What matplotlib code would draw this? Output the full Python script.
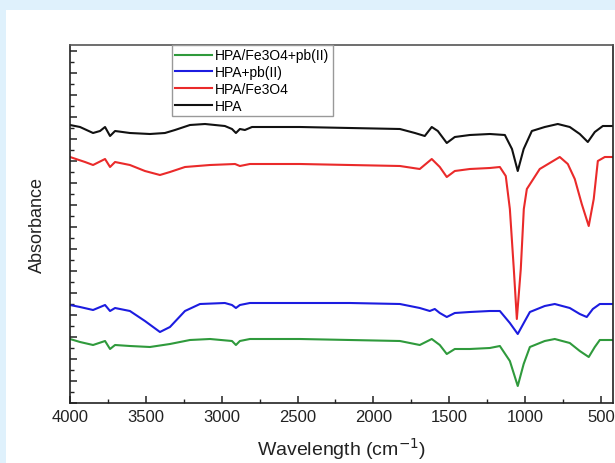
import matplotlib
matplotlib.use("Agg")
import matplotlib.pyplot as plt
from matplotlib.patches import Rectangle
from matplotlib.ticker import MultipleLocator, NullFormatter

plt.rcParams['font.family'] = ['Liberation Sans', 'DejaVu Sans']

# FTIR spectra, wavenumber (cm-1) vs absorbance (arbitrary, offset)
wn_hpa = [4000, 3934, 3848, 3802, 3769, 3736, 3703, 3605, 3473, 3374, 3308, 3209, 3110,
          2979, 2932, 2906, 2880, 2847, 2800, 2484, 2155, 1825, 1726, 1661, 1615, 1575,
          1516, 1463, 1364, 1232, 1133, 1086, 1048, 1009, 955, 870, 784, 705, 639, 586,
          540, 487, 421]
ab_hpa = [2.78, 2.76, 2.70, 2.72, 2.76, 2.67, 2.72, 2.70, 2.69, 2.70, 2.73, 2.78, 2.79,
          2.77, 2.74, 2.70, 2.74, 2.73, 2.76, 2.76, 2.75, 2.74, 2.70, 2.67, 2.76, 2.72,
          2.60, 2.66, 2.68, 2.69, 2.68, 2.54, 2.32, 2.54, 2.72, 2.76, 2.79, 2.76, 2.69, 2.61,
          2.71, 2.77, 2.77]

wn_fe = [4000, 3901, 3848, 3769, 3736, 3703, 3605, 3506, 3407, 3341, 3242, 3077, 2912,
         2880, 2814, 2484, 2155, 1825, 1694, 1615, 1562, 1516, 1463, 1364, 1232, 1166,
         1127, 1100, 1074, 1054, 1028, 1008, 988, 903, 771, 718, 672, 626, 580, 547, 520,
         474, 421]
ab_fe = [2.46, 2.41, 2.38, 2.44, 2.36, 2.41, 2.38, 2.32, 2.28, 2.31, 2.36, 2.38, 2.39,
         2.37, 2.39, 2.39, 2.38, 2.37, 2.34, 2.44, 2.36, 2.26, 2.32, 2.34, 2.35, 2.36,
         2.27, 1.94, 1.34, 0.84, 1.34, 1.94, 2.14, 2.34, 2.46, 2.39, 2.24, 1.99, 1.77, 2.04,
         2.42, 2.46, 2.46]

wn_pb = [4000, 3934, 3848, 3769, 3736, 3703, 3605, 3506, 3407, 3341, 3242, 3143, 2979,
         2932, 2906, 2880, 2814, 2484, 2155, 1825, 1694, 1628, 1595, 1562, 1516, 1463,
         1364, 1232, 1166, 1100, 1048, 1001, 968, 870, 804, 705, 639, 593, 553, 507, 421]
ab_pb = [0.98, 0.96, 0.93, 0.98, 0.92, 0.95, 0.92, 0.82, 0.71, 0.76, 0.92, 0.99, 1.00,
         0.98, 0.95, 0.98, 1.00, 1.00, 1.00, 0.99, 0.95, 0.92, 0.94, 0.90, 0.86, 0.90,
         0.91, 0.92, 0.92, 0.80, 0.69, 0.82, 0.91, 0.97, 0.99, 0.95, 0.89, 0.86, 0.94,
         0.99, 0.99]

wn_fepb = [4000, 3934, 3848, 3769, 3736, 3703, 3605, 3473, 3341, 3209, 3077, 2932, 2906,
           2880, 2814, 2484, 2155, 1825, 1694, 1615, 1562, 1516, 1463, 1364, 1232, 1166,
           1100, 1048, 1009, 968, 870, 804, 705, 639, 580, 540, 507, 421]
ab_fepb = [0.64, 0.61, 0.58, 0.62, 0.54, 0.58, 0.57, 0.56, 0.59, 0.63, 0.64, 0.62, 0.58,
           0.62, 0.64, 0.64, 0.63, 0.62, 0.58, 0.64, 0.58, 0.49, 0.54, 0.54, 0.55, 0.57,
           0.42, 0.17, 0.39, 0.56, 0.62, 0.64, 0.60, 0.52, 0.46, 0.56, 0.63, 0.63]

fig = plt.figure(figsize=(6.15, 4.64), dpi=100, facecolor='#dff1fc')
# white panel behind the chart
panel = Rectangle((6 / 615, 0), 1, (464 - 11) / 464, transform=fig.transFigure,
                  facecolor='white', edgecolor='none', zorder=-5)
fig.patches.append(panel)

ax = fig.add_axes([70 / 615, 60 / 464, 543 / 615, 358 / 464])
ax.set_facecolor('white')

ax.plot(wn_fepb, ab_fepb, color='#2f9a3c', lw=1.5, label='HPA/Fe3O4+pb(II)')
ax.plot(wn_pb, ab_pb, color='#1c1ce0', lw=1.5, label='HPA+pb(II)')
ax.plot(wn_fe, ab_fe, color='#ea2a2a', lw=1.5, label='HPA/Fe3O4')
ax.plot(wn_hpa, ab_hpa, color='#111111', lw=1.5, label='HPA')

ax.set_xlim(4000, 420)
ax.set_ylim(0, 3.58)

ax.xaxis.set_major_locator(MultipleLocator(500))
ax.xaxis.set_minor_locator(MultipleLocator(250))
ax.yaxis.set_major_locator(MultipleLocator(0.22))
ax.yaxis.set_minor_locator(MultipleLocator(0.11))
ax.yaxis.set_major_formatter(NullFormatter())
ax.tick_params(axis='both', which='both', direction='in', top=False, right=False, color='#222')
ax.tick_params(axis='x', which='major', length=5, width=1.1, labelsize=12, labelcolor='#222', pad=4)
ax.tick_params(axis='x', which='minor', length=3, width=1.0)
ax.tick_params(axis='y', which='major', length=5, width=1.1)
ax.tick_params(axis='y', which='minor', length=3, width=1.0)

for s in ax.spines.values():
    s.set_linewidth(1.2)
    s.set_color('#222')
ax.spines['top'].set_color('#555')

ax.set_xlabel('Wavelength (cm$^{-1}$)', fontsize=14, color='#222', labelpad=8)
ax.set_ylabel('Absorbance', fontsize=13, color='#222', labelpad=14)

leg = ax.legend(loc='upper left', bbox_to_anchor=(102 / 543, 1.0), borderaxespad=0,
                fontsize=10, handlelength=2.6, handletextpad=0.25, labelspacing=0.2,
                borderpad=0.25, fancybox=False, framealpha=1, edgecolor='#999')
leg.get_frame().set_linewidth(1.0)

fig.savefig('out.png', dpi=100, facecolor=fig.get_facecolor())
